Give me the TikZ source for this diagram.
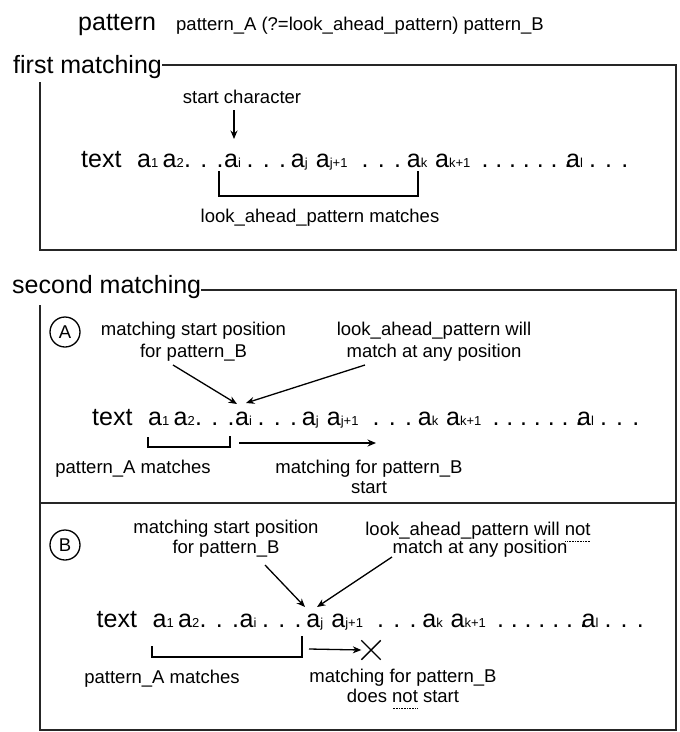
\documentclass[tikz,border=0pt]{standalone}
\usepackage{fontspec}
\setmainfont{Liberation Sans}
\usetikzlibrary{arrows.meta,shapes.misc}
\newcommand\bigf{\fontsize{25}{30}\selectfont}
\newcommand\medf{\fontsize{18.5}{22}\selectfont}
\newcommand\mysub[1]{{\fontsize{13}{13}\selectfont #1}}
\newcommand\dotul[1]{\setbox0=\hbox{#1}\rlap{\lower6pt\hbox to \wd0{\leaders\hbox to 1.6pt{\hss\vrule width 0.8pt height 0.5pt depth 0.5pt\hss}\hfill}}\box0\relax}
\newcommand\textrow[3]{%
  \node[tok] (#1t)   at ({81+#2},#3)    {text};
  \node[tok] (#1a1)  at ({137+#2},#3)   {a\mysub{1}};
  \node[tok] (#1a2)  at ({162.5+#2},#3) {a\mysub{2}};
  \node[tok] (#1d1)  at (#1a2.base east) {. . .};
  \node[tok] (#1ai)  at ({224+#2},#3)   {a\mysub{i}};
  \node[tok] (#1d2)  at ({246.5+#2},#3) {. . .};
  \node[tok] (#1aj)  at ({290.7+#2},#3) {a\mysub{j}};
  \node[tok] (#1aj1) at ({315.7+#2},#3) {a\mysub{j+1}};
  \node[tok] (#1d3)  at ({361.5+#2},#3) {. . .};
  \node[tok] (#1ak)  at ({406.7+#2},#3) {a\mysub{k}};
  \node[tok] (#1ak1) at ({435+#2},#3)   {a\mysub{k+1}};
  \node[tok] (#1d4)  at ({481.5+#2},#3) {\spaceskip=4.5pt . . . . . . .};
  \node[tok] (#1al)  at ({566+#2},#3)   {a\mysub{l}};
  \node[tok] (#1d5)  at ({588.8+#2},#3) {. . .};
}
\begin{document}
\begin{tikzpicture}[x=1pt,y=-1pt,
  tok/.style={anchor=base west, inner sep=0pt, font=\bigf},
  lbl/.style={anchor=base, inner sep=0pt, font=\medf},
  frame/.style={line width=1.5pt, draw=black!85},
  arr/.style={line width=1.3pt, -{Stealth[length=8.5pt,width=7pt]}},
  brk/.style={line width=1.5pt},
  circ/.style={circle, draw, line width=1.3pt, minimum size=30pt, inner sep=0pt, font=\medf},
  xmark/.style={cross out, draw, line width=1.4pt, minimum size=18pt, inner sep=0pt}]
\useasboundingbox (0,0) rectangle (680,732);

% header
\node[tok] (pat) at (78,30) {pattern};
\node[tok, font=\medf] (patdef) at (176,30) {pattern\_A (?=look\_ahead\_pattern) pattern\_B};

% ---------- first matching ----------
\node[tok] (first) at (13,73) {first matching};
\draw[frame] (first.east |- 0,65) -- (676,65) -- (676,250) -- (40,250) -- (40,82);
\node[lbl] (startc) at (242,103) {start character};
\textrow{r1}{0}{167}
\coordinate (sc0) at (234,110);
\coordinate (sc1) at (234,139);
\draw[arr] (sc0) -- (sc1);
\coordinate (b1a) at (219,171);
\coordinate (b1b) at (219,196);
\coordinate (b1c) at (418,196);
\coordinate (b1d) at (418,171);
\draw[brk] (b1a) -- (b1b) -- (b1c) -- (b1d);
\node[lbl] (lam) at (320,222) {look\_ahead\_pattern matches};

% ---------- second matching ----------
\node[tok] (second) at (12,293) {second matching};
\draw[frame] (second.east |- 0,290) -- (676,290) -- (676,730) -- (40,730) -- (40,305);
\draw[frame] (40,503) -- (676,503);

% ----- A -----
\node[circ] (cA) at (65,332) {A};
\node[lbl] (msA1) at (193.5,335) {matching start position};
\node[lbl] (msA2) at (193.5,357) {for pattern\_B};
\node[lbl] (laA1) at (434,335) {look\_ahead\_pattern will};
\node[lbl] (laA2) at (434,357) {match at any position};
\textrow{rA}{11}{425}
\coordinate (aA1s) at (173,365);
\coordinate (aA1e) at (237,404);
\coordinate (aA2s) at (365,365);
\coordinate (aA2e) at (246,403);
\draw[arr] (aA1s) -- (aA1e);
\draw[arr] (aA2s) -- (aA2e);
\coordinate (bAa) at (148,437);
\coordinate (bAb) at (148,447);
\coordinate (bAc) at (230,447);
\coordinate (bAd) at (230,436);
\draw[brk] (bAa) -- (bAb) -- (bAc) -- (bAd);
\coordinate (mAs) at (239,443);
\coordinate (mAe) at (376,443);
\draw[arr] (mAs) -- (mAe);
\node[lbl] (paA) at (133,473) {pattern\_A matches};
\node[lbl] (mfA1) at (369,473) {matching for pattern\_B};
\node[lbl] (mfA2) at (369,493) {start};

% ----- B -----
\node[circ] (cB) at (65,545) {B};
\node[lbl] (msB1) at (226,533) {matching start position};
\node[lbl] (msB2) at (226,553) {for pattern\_B};
\node[lbl] (laB1) at (478,535) {look\_ahead\_pattern will \dotul{not}};
\node[lbl] (laB2) at (480,553) {match at any position};
\textrow{rB}{15.5}{627}
\coordinate (aB1s) at (265,565);
\coordinate (aB1e) at (305,607);
\coordinate (aB2s) at (392,557);
\coordinate (aB2e) at (317,607);
\draw[arr] (aB1s) -- (aB1e);
\draw[arr] (aB2s) -- (aB2e);
\coordinate (bBa) at (152,646);
\coordinate (bBb) at (152,657);
\coordinate (bBc) at (302,657);
\coordinate (bBd) at (302,636);
\draw[brk] (bBa) -- (bBb) -- (bBc) -- (bBd);
\node[xmark] (xB) at (371,650) {};
\coordinate (mBs) at (309,649);
\draw[arr] (mBs) -- (xB.west);
\node[lbl] (paB) at (162,683) {pattern\_A matches};
\node[lbl] (mfB1) at (403,682) {matching for pattern\_B};
\node[lbl] (mfB2) at (403,702) {does \dotul{not} start};
\end{tikzpicture}
\end{document}
